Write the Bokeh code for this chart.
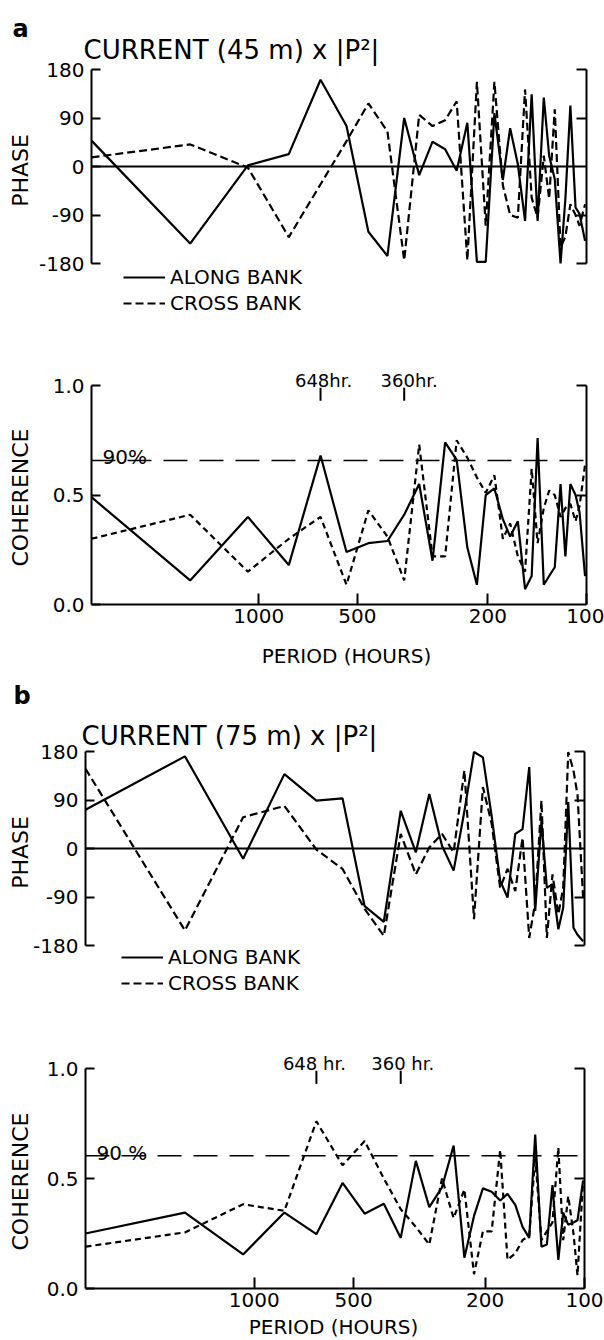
import math
from bokeh.plotting import figure
from bokeh.models import (Range1d, FixedTicker, LinearAxis, Label,
                          Legend, LegendItem)
from bokeh.layouts import column
from bokeh.embed import file_html
from bokeh.resources import INLINE

FONT = "DejaVu Sans"

# periods (hours) of the spectral estimates
periods = [3240, 1620, 1080, 810, 648, 540, 463, 405, 360, 324, 295, 270,
           249, 231, 216, 203, 191, 180, 171, 162, 154, 147, 141, 135,
           130, 125, 120, 116, 112, 108, 105, 101]
period_max, period_min = 3240, 100

# panel a: current 45 m
along_a_phase = [48, -143, 2, 23, 161, 75, -121, -166, 90, -16, 46, 32,
                 -8, 81, -177, -177, 99, -25, 71, 4, -101, 134, -101, 128,
                 20, -23, -180, -60, 113, -76, -88, -138]
cross_a_phase = [17, 41, -2, -131, -33, 47, 117, 65, -174, 96, 75, 86,
                 121, -174, 157, -110, 157, -35, -90, -95, 143, -58, -95, 20,
                 -60, 106, -150, -130, -70, -90, -110, -70]
along_a_coh = [0.49, 0.11, 0.40, 0.18, 0.68, 0.24, 0.28, 0.29, 0.41, 0.55,
               0.20, 0.74, 0.66, 0.26, 0.09, 0.50, 0.53, 0.39, 0.31, 0.38,
               0.07, 0.13, 0.76, 0.09, 0.13, 0.17, 0.55, 0.22, 0.55, 0.50,
               0.42, 0.13]
cross_a_coh = [0.30, 0.41, 0.15, 0.30, 0.40, 0.09, 0.43, 0.31, 0.11, 0.73,
               0.22, 0.22, 0.75, 0.67, 0.58, 0.51, 0.59, 0.30, 0.37, 0.22,
               0.15, 0.62, 0.28, 0.44, 0.52, 0.50, 0.40, 0.44, 0.46, 0.38,
               0.45, 0.64]

# panel b: current 75 m
along_b_phase = [72, 171, -19, 138, 89, 93, -107, -136, 70, -7, 101, 5,
                 -41, 69, 179, 169, 60, -60, -91, 27, 36, 151, -116, 51,
                 -73, -66, -150, -110, 86, -147, -160, -172]
cross_b_phase = [148, -152, 58, 79, -2, -38, -112, -162, 27, -48, 2, 27,
                 -7, 145, -131, 114, 46, -73, -38, -79, 20, -166, -100, 89,
                 -166, -48, -122, -73, 179, 145, 100, -90]
along_b_coh = [0.25, 0.345, 0.155, 0.345, 0.247, 0.48, 0.34, 0.385, 0.23,
               0.58, 0.37, 0.46, 0.65, 0.14, 0.33, 0.455, 0.44, 0.40, 0.43,
               0.38, 0.28, 0.23, 0.70, 0.19, 0.20, 0.47, 0.13, 0.345, 0.29,
               0.30, 0.31, 0.49]
cross_b_coh = [0.19, 0.255, 0.383, 0.353, 0.76, 0.56, 0.67, 0.50, 0.36,
               0.28, 0.20, 0.50, 0.32, 0.45, 0.065, 0.26, 0.26, 0.63, 0.13,
               0.16, 0.22, 0.24, 0.60, 0.22, 0.26, 0.30, 0.64, 0.22, 0.42,
               0.25, 0.06, 0.49]

phase_ticks = [-180, -90, 0, 90, 180]
phase_labels = {-180: "-180", -90: "-90", 0: "0", 90: "90", 180: "180"}
coh_ticks = [0.0, 0.5, 1.0]
coh_labels = {0.0: "0.0", 0.5: "0.5", 1.0: "1.0"}
period_ticks = [1000, 500, 200, 100]
period_labels = {1000: "1000", 500: "500", 200: "200", 100: "100"}
sig90 = {"a": 0.658, "b": 0.603}
marks = [648, 360]
mark_text = {"a": ["648hr.", "360hr."], "b": ["648 hr.", "360 hr."]}
titles = {"a": "CURRENT (45 m) x |P\u00b2|", "b": "CURRENT (75 m) x |P\u00b2|"}

W = 604          # figure width
PAGE_X0 = 0


def make_fig(top, height, frame_left, frame_right, ylo_val, ylo_px,
             yhi_val, yhi_px):
    """Whole figure is the plot frame; ranges are chosen so that the
    data box (period_max..period_min, ylo..yhi) sits at the given page
    pixels."""
    lmax, lmin = math.log10(period_max), math.log10(period_min)
    s = (frame_right - frame_left) / (lmax - lmin)
    x_start = 10 ** (lmax + (frame_left - PAGE_X0) / s)
    x_end = 10 ** (lmax - (PAGE_X0 + W - frame_left) / s)
    sy = (ylo_px - yhi_px) / (yhi_val - ylo_val)
    y_top = yhi_val + (yhi_px - top) / sy
    y_bot = ylo_val - (top + height - ylo_px) / sy
    p = figure(width=W, height=height, x_axis_type="log",
               x_range=Range1d(x_start, x_end),
               y_range=Range1d(y_bot, y_top),
               output_backend="svg", toolbar_location=None,
               min_border_left=0, min_border_right=0,
               min_border_top=0, min_border_bottom=0)
    p.outline_line_color = None
    p.xgrid.grid_line_color = None
    p.ygrid.grid_line_color = None
    p.background_fill_color = "white"
    p.border_fill_color = "white"
    return p


def style_axis(ax, ticks, labels, tin, tout, standoff=7):
    ax.ticker = FixedTicker(ticks=ticks)
    ax.major_label_overrides = labels
    ax.major_tick_in = tin
    ax.major_tick_out = tout
    ax.minor_tick_line_color = None
    ax.axis_line_width = 2
    ax.major_tick_line_width = 2
    ax.axis_line_color = "black"
    ax.major_tick_line_color = "black"
    ax.major_label_text_font = FONT
    ax.major_label_text_font_size = "20px"
    ax.major_label_text_color = "black"
    ax.major_label_standoff = standoff


def lab(p, fig_bottom, text, px, py, size, align="left",
        baseline="alphabetic", angle=0.0, bold=False, xdata=None,
        x_offset=0):
    kw = dict(text=text, y=fig_bottom - py, y_units="screen",
              text_font=FONT, text_font_size=f"{size}px",
              text_align=align, text_baseline=baseline, angle=angle,
              text_color="black",
              text_font_style="bold" if bold else "normal",
              x_offset=x_offset)
    if xdata is None:
        kw.update(x=px - PAGE_X0, x_units="screen")
    else:
        kw.update(x=xdata, x_units="data")
    p.add_layout(Label(**kw))


def frame_axes(p, ylo, yhi, ticks, labels, right_ticks):
    ax = p.yaxis[0]
    ax.fixed_location = period_max
    ax.bounds = (ylo, yhi)
    style_axis(ax, ticks, labels, 9, 0)
    rax = LinearAxis(fixed_location=period_min, bounds=(ylo, yhi))
    style_axis(rax, right_ticks, {t: "" for t in right_ticks}, 10, 0,
               standoff=0)
    p.add_layout(rax, "right")


def phase_panel(key, along, cross, top, height, fl, fr, y180, ym180,
                letter_xy, title_xy, phase_c, legend_x, legend_bottom):
    bottom = top + height
    p = make_fig(top, height, fl, fr, -180, ym180, 180, y180)
    p.xaxis.visible = False
    frame_axes(p, -180, 180, phase_ticks, phase_labels, [-180, -90, 90, 180])
    p.segment(x0=[period_max], y0=[0], x1=[period_min], y1=[0],
              line_color="black", line_width=2)
    r1 = p.line(periods, along, line_color="black", line_width=2.2)
    r2 = p.line(periods, cross, line_color="black", line_width=2.2,
                line_dash="8 4")
    lab(p, bottom, key, *letter_xy, 24, bold=True)
    lab(p, bottom, titles[key], *title_xy, 26)
    lab(p, bottom, "PHASE", *phase_c, 22, align="center",
        baseline="middle", angle=math.pi / 2)
    leg = Legend(items=[LegendItem(label="ALONG BANK", renderers=[r1]),
                        LegendItem(label="CROSS BANK", renderers=[r2])],
                 location=(legend_x - PAGE_X0, bottom - legend_bottom),
                 orientation="vertical", glyph_width=42, glyph_height=20,
                 label_height=20, label_standoff=5, spacing=2, padding=0,
                 margin=0, border_line_color=None,
                 background_fill_alpha=0, label_text_font=FONT,
                 label_text_font_size="20px", label_text_color="black")
    p.add_layout(leg)
    return p


def coh_panel(key, along, cross, top, height, fl, fr, y1, y0, coh_c,
              pct_xy, mark_base, period_xy, mark_offsets):
    bottom = top + height
    p = make_fig(top, height, fl, fr, 0, y0, 1, y1)
    frame_axes(p, 0, 1, coh_ticks, coh_labels, [0.5, 1.0])
    xa = p.xaxis[0]
    xa.fixed_location = 0
    xa.bounds = (period_min, period_max)
    style_axis(xa, period_ticks, period_labels, 11, 0, standoff=4)
    p.segment(x0=[period_max], y0=[sig90[key]], x1=[period_min],
              y1=[sig90[key]], line_color="black", line_width=1.5,
              line_dash="24 12")
    p.segment(x0=marks, y0=[0.93, 0.93], x1=marks, y1=[0.99, 0.99],
              line_color="black", line_width=2)
    p.line(periods, along, line_color="black", line_width=2.2)
    p.line(periods, cross, line_color="black", line_width=2.2,
           line_dash="6 4")
    lab(p, bottom, "COHERENCE", *coh_c, 22, align="center",
        baseline="middle", angle=math.pi / 2)
    lab(p, bottom, "90%" if key == "a" else "90 %", *pct_xy, 20)
    for m, t, off in zip(marks, mark_text[key], mark_offsets):
        lab(p, bottom, t, 0, mark_base, 18, align="center", xdata=m,
            x_offset=off)
    lab(p, bottom, "PERIOD (HOURS)", *period_xy, 20, align="center")
    return p


# geometry below is in page pixels of the 604x1340 reference
pa1 = phase_panel("a", along_a_phase, cross_a_phase, 0, 318, 91, 586,
                  69, 263, (12, 28), (83, 49), (19.5, 170), 123, 315)
pa2 = coh_panel("a", along_a_coh, cross_a_coh, 318, 350, 91, 586,
                385, 604, (19.5, 497), (102, 456), 380, (346, 655), (3, 5))
pb1 = phase_panel("b", along_b_phase, cross_b_phase, 668, 332, 85, 584,
                  751, 945, (13, 695), (81, 735), (19.5, 852), 121, 995)
pb2 = coh_panel("b", along_b_coh, cross_b_coh, 1000, 340, 85, 584,
                1068, 1288, (19.5, 1181), (96, 1152), 1063, (333, 1326),
                (-2, 2))

layout = column(pa1, pa2, pb1, pb2, spacing=0)
open("out.html", "w").write(file_html(layout, INLINE))
